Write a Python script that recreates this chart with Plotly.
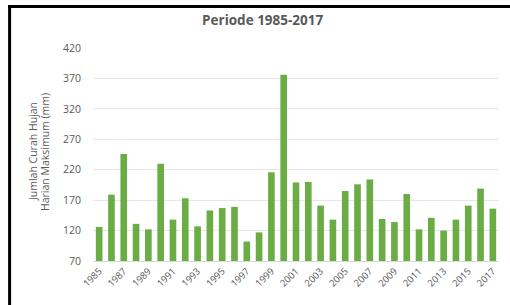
import plotly.graph_objects as go

years = [str(y) for y in range(1985, 2018)]
values = [126, 179, 246, 131, 122, 230, 138, 173, 127, 153, 157, 159, 102, 117,
          216, 376, 199, 200, 161, 138, 185, 196, 204, 139, 134, 180, 122, 141,
          120, 138, 161, 189, 156]
tick_years = years[::2]
y_ticks = [70, 120, 170, 220, 270, 320, 370, 420]

W, H = 510, 305
L, R, T, B = 93, 10.5, 48, 44
pw, ph = W - L - R, H - T - B

fig = go.Figure(go.Bar(
    x=years, y=values,
    marker=dict(color="#6aad45", line=dict(width=0)),
    width=0.54,
))

def px2paper_x(px):
    return (px - L) / pw

def px2paper_y(py):
    return 1 - (py - T) / ph

fig.update_layout(
    width=W, height=H,
    margin=dict(l=L, r=R, t=T, b=B),
    paper_bgcolor="white", plot_bgcolor="white",
    showlegend=False,
    font=dict(family="Open Sans, Liberation Sans, sans-serif", color="#595959"),
    title=dict(text="Periode 1985-2017", x=0.515, xanchor="center", y=1 - 20 / H,
               yanchor="middle", font=dict(size=13.5, color="#595959", weight="bold")),
    xaxis=dict(
        type="category", tickmode="array", tickvals=tick_years, ticktext=tick_years,
        tickangle=-45, tickfont=dict(size=9.5, color="#595959"),
        showgrid=False, showline=True, linecolor="#d9d9d9", linewidth=1,
        ticks="", range=[-0.5, len(years) - 0.5], automargin=False,
    ),
    yaxis=dict(
        range=[70, 420], tickmode="array", tickvals=y_ticks,
        tickfont=dict(size=10.5, color="#595959"),
        showgrid=True, gridcolor="#e6e6e6", gridwidth=1, zeroline=False,
        ticks="", ticklabelstandoff=11, automargin=False,
    ),
    annotations=[
        dict(text="Jumlah Curah Hujan", xref="paper", yref="paper",
             x=px2paper_x(33), y=px2paper_y(152), textangle=-90, showarrow=False,
             xanchor="center", yanchor="middle",
             font=dict(size=10.5, color="#595959")),
        dict(text="Harian Maksimum (mm)", xref="paper", yref="paper",
             x=px2paper_x(45), y=px2paper_y(152), textangle=-90, showarrow=False,
             xanchor="center", yanchor="middle",
             font=dict(size=10.5, color="#595959")),
    ],
    shapes=[
        dict(type="rect", xref="paper", yref="paper", layer="above",
             x0=px2paper_x(8), x1=px2paper_x(11), y0=px2paper_y(5), y1=px2paper_y(H + 2),
             fillcolor="black", line=dict(width=0)),
        dict(type="rect", xref="paper", yref="paper", layer="above",
             x0=px2paper_x(8), x1=px2paper_x(W + 2), y0=px2paper_y(5), y1=px2paper_y(8),
             fillcolor="black", line=dict(width=0)),
    ],
)

fig.write_html("out.html", config={"displayModeBar": False},
               post_script="document.body.style.margin='0';")
